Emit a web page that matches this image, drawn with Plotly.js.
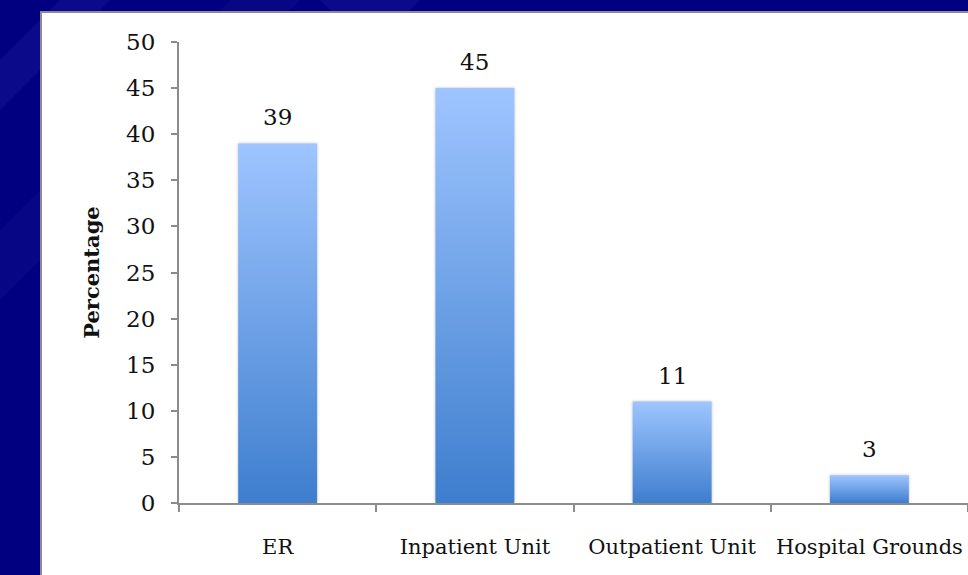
<!DOCTYPE html>
<html>
<head>
<meta charset="utf-8">
<script src="https://cdn.plot.ly/plotly-3.0.1.min.js"></script>
<style>
html,body{margin:0;padding:0;background:#000080;overflow:hidden;}
#chart{width:968px;height:575px;}
</style>
</head>
<body>
<div id="chart"></div>
<script>
// Data
const categories = ["ER", "Inpatient Unit", "Outpatient Unit", "Hospital Grounds"];
const percentages = [39, 45, 11, 3];
const yTicks = [0, 5, 10, 15, 20, 25, 30, 35, 40, 45, 50];
const yTitle = "Percentage";

const serif = "DejaVu Serif, Liberation Serif, serif";

const trace = {
  type: "bar",
  x: categories,
  y: percentages,
  width: 0.4,
  marker: {color: "#6A9FE8", line: {width: 0}},
  hoverinfo: "skip"
};

const annotations = categories.map((c, i) => ({
  x: c, y: percentages[i], xref: "x", yref: "y",
  text: String(percentages[i]), showarrow: false,
  yanchor: "bottom", yshift: 11,
  font: {family: serif, size: 23, color: "#111"}
}));

// Background decoration: white panel on navy slide
const L = 179, T = 42, W = 789, H = 461;
function px(x){return (x - L) / W;}
function py(y){return (T + H - y) / H;}
const shapes = [
  {type: "path", xref: "paper", yref: "paper", layer: "below",
   path: `M ${px(0)} ${py(60)} L ${px(60)} ${py(0)} L ${px(110)} ${py(0)} L ${px(0)} ${py(110)} Z`,
   fillcolor: "rgba(40,40,170,0.25)", line: {width: 0}},
  {type: "path", xref: "paper", yref: "paper", layer: "below",
   path: `M ${px(0)} ${py(230)} L ${px(230)} ${py(0)} L ${px(300)} ${py(0)} L ${px(0)} ${py(300)} Z`,
   fillcolor: "rgba(30,30,150,0.22)", line: {width: 0}},
  {type: "path", xref: "paper", yref: "paper", layer: "below",
   path: `M ${px(320)} ${py(0)} L ${px(420)} ${py(0)} L ${px(408)} ${py(12)} L ${px(332)} ${py(12)} Z`,
   fillcolor: "rgba(40,40,170,0.25)", line: {width: 0}},
  {type: "rect", xref: "paper", yref: "paper", layer: "below",
   x0: px(41), x1: px(975), y0: py(12), y1: py(590),
   fillcolor: "#ffffff", line: {color: "#8a8a9a", width: 2}}
];

const layout = {
  width: 968, height: 575,
  margin: {l: L, r: 0, t: T, b: 575 - T - H, pad: 0},
  paper_bgcolor: "#000080",
  plot_bgcolor: "rgba(0,0,0,0)",
  showlegend: false,
  bargap: 0.6,
  font: {family: serif, color: "#111"},
  xaxis: {
    type: "category",
    range: [-0.5, 3.5],
    showgrid: false, zeroline: false,
    showline: true, linecolor: "#8c8c8c", linewidth: 2,
    ticks: "outside", tickson: "boundaries", ticklen: 7, tickwidth: 2, tickcolor: "#8c8c8c",
    tickangle: 0,
    ticklabelstandoff: 24,
    tickfont: {family: serif, size: 21, color: "#111"}
  },
  yaxis: {
    range: [0, 50],
    tickvals: yTicks,
    showgrid: false, zeroline: false,
    showline: true, linecolor: "#8c8c8c", linewidth: 2,
    ticks: "outside", ticklen: 6, tickwidth: 2, tickcolor: "#8c8c8c",
    ticklabelstandoff: 11,
    tickfont: {family: serif, size: 23, color: "#111"},
    title: {text: yTitle, standoff: 21, font: {family: serif, size: 21, color: "#111", weight: "bold"}}
  },
  annotations: annotations,
  shapes: shapes
};

Plotly.newPlot("chart", [trace], layout, {staticPlot: true, displayModeBar: false}).then(gd => {
  // vertical gradient fill for each bar
  const svg = gd.querySelector("svg.main-svg");
  const ns = "http://www.w3.org/2000/svg";
  let defs = svg.querySelector("defs");
  if (!defs) { defs = document.createElementNS(ns, "defs"); svg.insertBefore(defs, svg.firstChild); }
  const g = document.createElementNS(ns, "linearGradient");
  g.setAttribute("id", "barGrad");
  g.setAttribute("x1", "0"); g.setAttribute("y1", "0");
  g.setAttribute("x2", "0"); g.setAttribute("y2", "1");
  [["0", "#9EC5FF"], ["1", "#3E7ECE"]].forEach(([o, c]) => {
    const s = document.createElementNS(ns, "stop");
    s.setAttribute("offset", o); s.setAttribute("stop-color", c);
    g.appendChild(s);
  });
  defs.appendChild(g);
  gd.querySelectorAll(".point path").forEach(p => {
    p.style.fill = "url(#barGrad)";
    p.style.filter = "drop-shadow(0px 0px 1.5px rgba(0,0,0,0.25))";
  });
});
</script>
</body>
</html>
